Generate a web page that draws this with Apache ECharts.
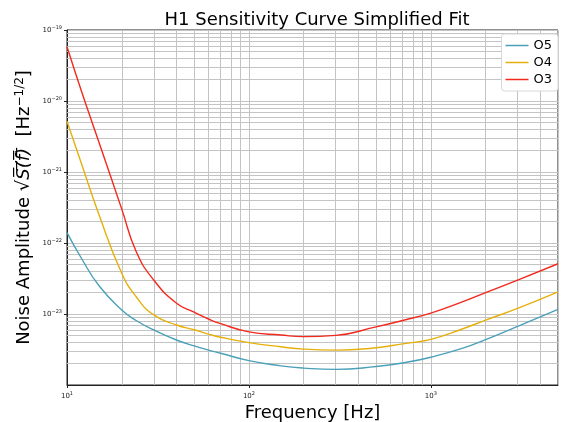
<!DOCTYPE html>
<html>
<head>
    <meta charset="utf-8" />
    <title>H1 Sensitivity Curve</title>
    <style>body{margin:0;background:#fff;}</style>
</head>
<body>
<script src="https://cdn.jsdelivr.net/npm/echarts@6.0.0/dist/echarts.min.js"></script>
<div id="main" style="width: 561px;height:422px;"></div>
<script type="text/javascript">
    // frequencies [Hz] and amplitude
    var freq = [10, 12, 15, 20, 24, 30, 40, 50, 60, 70, 100, 150, 200, 300, 500, 700, 1000, 1500, 2000, 3000, 5000];
    var o5 = [1.4e-22, 6.1e-23, 2.5e-23, 1.14e-23, 8.1e-24, 5.96e-24, 4.3e-24, 3.55e-24, 3.1e-24, 2.8e-24, 2.2e-24,
        1.86e-24, 1.73e-24, 1.66e-24, 1.82e-24, 2.04e-24, 2.46e-24, 3.3e-24, 4.35e-24, 6.7e-24, 1.16e-23];
    var o4 = [5.2e-21, 1.32e-21, 2.5e-22, 3.74e-23, 1.75e-23, 9.7e-24, 7.0e-24, 6.0e-24, 5.2e-24, 4.7e-24, 3.95e-24,
        3.45e-24, 3.2e-24, 3.1e-24, 3.35e-24, 3.8e-24, 4.4e-24, 6.2e-24, 8.2e-24, 1.2e-23, 2.05e-23];
    var o3 = [5.8e-20, 1.38e-20, 2.6e-21, 3.0e-22, 7.6e-23, 3.0e-23, 1.42e-23, 1.06e-23, 8.5e-24, 7.3e-24, 5.6e-24,
        5.05e-24, 4.8e-24, 5.0e-24, 6.6e-24, 8.1e-24, 1.03e-23, 1.49e-23, 2.0e-23, 3.0e-23, 5.1e-23];
    var names = ['O5', 'O4', 'O3'];
    var colors = ['#4aa0b8', '#e6b00c', '#f2291c'];

    var xMin = 10, xMax = 5000, yMin = 1e-24, yMax = 1e-19;

    function pairs(ys) {
        return freq.map(function (f, i) { return [f, ys[i]]; });
    }

    // minor grid lines at 2..9 x each decade
    var gridSegs = [];
    [10, 100, 1000].forEach(function (d) {
        for (var k = 2; k <= 9; k++) {
            if (d * k < xMax) gridSegs.push({ coords: [[d * k, yMin], [d * k, yMax]] });
        }
    });
    for (var e = -24; e < -19; e++) {
        for (var k = 2; k <= 9; k++) {
            var v = k * Math.pow(10, e);
            gridSegs.push({ coords: [[xMin, v], [xMax, v]] });
        }
    }

    function powLabel(v) {
        var e = Math.round(Math.log10(v));
        if (Math.abs(Math.log10(v) - e) > 1e-6) return '';
        return '{b|10}{s|' + (e < 0 ? '\u2212' + (-e) : e) + '}';
    }
    var tickRich = {
        b: { fontSize: 7, color: '#222', fontFamily: 'DejaVu Sans' },
        s: { fontSize: 5, color: '#222', fontFamily: 'DejaVu Sans', padding: [0, 0, 5, 0] }
    };

    var myChart = echarts.init(document.getElementById('main'));
    var series = [{
        name: 'minor grid',
        type: 'lines',
        coordinateSystem: 'cartesian2d',
        silent: true,
        z: 1,
        lineStyle: { color: '#c4c4c4', width: 1, opacity: 1 },
        data: gridSegs
    }];
    [o5, o4, o3].forEach(function (ys, i) {
        series.push({
            name: names[i],
            type: 'line',
            data: pairs(ys),
            showSymbol: false,
            smooth: 0.5,
            z: 5,
            lineStyle: { color: colors[i], width: 1.4 },
            itemStyle: { color: colors[i] }
        });
    });

    var option = {
        animation: false,
        title: {
            text: 'H1 Sensitivity Curve Simplified Fit',
            left: 312, textAlign: 'center',
            top: 6,
            textStyle: { fontSize: 18, fontWeight: 'normal', color: '#000', fontFamily: 'DejaVu Sans' }
        },
        grid: {
            left: 67, right: 3, top: 30, bottom: 37,
            containLabel: false, outerBoundsMode: 'none',
            show: true, borderColor: '#222', borderWidth: 1
        },
        legend: {
            data: names,
            orient: 'vertical',
            right: 3, top: 34,
            icon: 'rect',
            itemWidth: 23, itemHeight: 1.5,
            itemGap: 4,
            padding: [5, 6, 5, 4],
            borderColor: '#d8d8d8', borderWidth: 1, borderRadius: 3,
            backgroundColor: '#fff',
            textStyle: { fontSize: 13, color: '#000', fontFamily: 'DejaVu Sans' }
        },
        xAxis: {
            type: 'log', logBase: 10, min: xMin, max: xMax,
            name: 'Frequency [Hz]',
            nameLocation: 'middle', nameGap: 14,
            nameTextStyle: { fontSize: 18, color: '#000', fontFamily: 'DejaVu Sans' },
            axisLine: { show: true, lineStyle: { color: '#222' } },
            axisTick: { show: true, length: 3, lineStyle: { color: '#222' } },
            axisLabel: { formatter: powLabel, rich: tickRich, margin: 6, showMaxLabel: false },
            splitLine: { show: true, lineStyle: { color: '#c4c4c4', width: 1 } }
        },
        yAxis: {
            type: 'log', logBase: 10, min: yMin, max: yMax,
            name: '{n|Noise Amplitude }{n|\u221A}{i|S\u0305(\u0305f\u0305)\u0305}{n|  [Hz}{s|\u22121/2}{n|]}',
            nameLocation: 'middle', nameRotate: 90, nameGap: 32,
            nameMoveOverlap: false,
            nameTextStyle: {
                fontSize: 18,
                rich: {
                    n: { fontSize: 18, color: '#000', fontFamily: 'DejaVu Sans' },
                    i: { fontSize: 18, color: '#000', fontFamily: 'DejaVu Sans', fontStyle: 'italic' },
                    s: { fontSize: 12, color: '#000', fontFamily: 'DejaVu Sans', padding: [0, 0, 9, 0] }
                }
            },
            axisLine: { show: true, lineStyle: { color: '#222' } },
            axisTick: { show: true, length: 3, lineStyle: { color: '#222' } },
            axisLabel: { formatter: powLabel, rich: tickRich, margin: 5 },
            splitLine: { show: true, lineStyle: { color: '#c4c4c4', width: 1 } }
        },
        series: series
    };
    myChart.setOption(option);
</script>
</body>
</html>
